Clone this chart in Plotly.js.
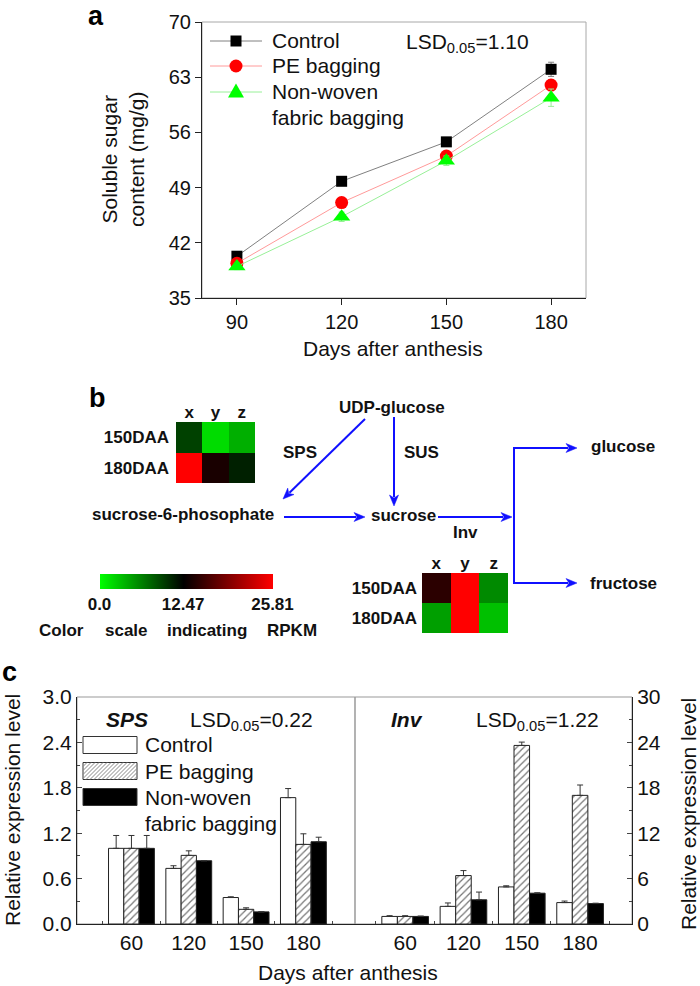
<!DOCTYPE html>
<html><head><meta charset="utf-8">
<script src="https://cdn.plot.ly/plotly-3.0.1.min.js"></script>
<style>html,body{margin:0;padding:0;background:#fff}</style>
</head><body><div id="chart" style="width:700px;height:986px"></div>
<script>
// ---------- Panel a data ----------
const daysA = [90, 120, 150, 180];
const controlA = [40.3, 49.8, 54.8, 64.0];
const controlAErr = [0.4, 0.5, 0.4, 0.9];
const peA = [39.4, 47.1, 53.0, 62.0];
const peAErr = [0.3, 0.5, 0.4, 0.7];
const nwA = [39.0, 45.3, 52.4, 60.4];
const nwAErr = [0.4, 0.6, 0.6, 1.1];
const seriesNames = ['Control', 'PE bagging', 'Non-woven<br>fabric bagging'];

// ---------- Panel b data (RPKM heatmaps) ----------
const heatCols = ['x', 'y', 'z'];
const heatRows = ['150DAA', '180DAA'];
const spsHeat = [[9.3, 1.7, 3.9], [25.81, 13.8, 10.9]];
const invHeat = [[14.7, 25.81, 5.7], [4.7, 25.81, 3.1]];
const rpkmTicks = [0, 12.47, 25.81];
const rpkmTickText = ['0.0', '12.47', '25.81'];

// ---------- Panel c data ----------
const dayCats = ['60', '120', '150', '180'];
const spsControl = [1.0, 0.735, 0.35, 1.67];
const spsControlErr = [0.17, 0.035, 0.01, 0.12];
const spsPE = [1.0, 0.907, 0.194, 1.052];
const spsPEErr = [0.17, 0.06, 0.02, 0.14];
const spsNW = [1.0, 0.836, 0.16, 1.087];
const spsNWErr = [0.17, 0.0, 0.0, 0.06];
const invControl = [1.0, 2.33, 4.9, 2.83];
const invControlErr = [0.1, 0.45, 0.15, 0.2];
const invPE = [1.0, 6.4, 23.6, 17.0];
const invPEErr = [0.1, 0.66, 0.44, 1.37];
const invNW = [1.0, 3.2, 4.07, 2.7];
const invNWErr = [0.05, 1.02, 0.05, 0.05];

// ---------- helpers ----------
const W = 700, H = 986;
const FONT = 'Liberation Sans, Arial, Helvetica, sans-serif';
const px = x => x / W;
const py = y => 1 - y / H;

const traces = [];
// Panel a
const aStyles = [
  {line: '#808080', marker: {symbol: 'square', size: 11, color: '#000000'}},
  {line: '#ff9a9a', marker: {symbol: 'circle', size: 13, color: '#ff0000'}},
  {line: '#98f098', marker: {symbol: 'triangle-up', size: 15, color: '#00ff00'}}
];
[[controlA, controlAErr], [peA, peAErr], [nwA, nwAErr]].forEach((s, i) => {
  traces.push({
    type: 'scatter', mode: 'lines+markers', x: daysA, y: s[0], name: seriesNames[i],
    xaxis: 'x', yaxis: 'y', showlegend: false,
    line: {color: aStyles[i].line, width: 1},
    marker: aStyles[i].marker,
    error_y: {type: 'data', array: s[1], color: aStyles[i].line, thickness: 1, width: 3}
  });
});

// Panel c bars
const barStyles = [
  {color: '#ffffff', pattern: {shape: ''}},
  {color: '#ffffff', pattern: {shape: '/', fgcolor: '#777777', bgcolor: '#ffffff', size: 5, solidity: 0.25}},
  {color: '#000000', pattern: {shape: ''}}
];
function addBars(vals, errs, xa, ya) {
  vals.forEach((v, i) => {
    traces.push({
      type: 'bar', x: dayCats, y: v, xaxis: xa, yaxis: ya, showlegend: false,
      name: seriesNames[i].replace('<br>', ' '),
      marker: {color: barStyles[i].color, pattern: barStyles[i].pattern, line: {color: '#222', width: 1}},
      error_y: {type: 'data', symmetric: false, array: errs[i], arrayminus: errs[i].map(() => 0),
                color: '#333', thickness: 1, width: 3}
    });
  });
}
addBars([spsControl, spsPE, spsNW], [spsControlErr, spsPEErr, spsNWErr], 'x2', 'y2');
addBars([invControl, invPE, invNW], [invControlErr, invPEErr, invNWErr], 'x3', 'y3');

// Panel b heatmaps
const cscale = [[0, 'rgb(0,255,0)'], [12.47 / 25.81, 'rgb(0,0,0)'], [1, 'rgb(255,0,0)']];
traces.push({
  type: 'heatmap', x: heatCols, y: heatRows, z: spsHeat, xaxis: 'x4', yaxis: 'y4',
  zmin: 0, zmax: 25.81, colorscale: cscale, showscale: true, hoverinfo: 'z',
  colorbar: {
    orientation: 'h', x: px(186), xanchor: 'center', y: py(574), yanchor: 'top',
    len: 173, lenmode: 'pixels', thickness: 15, thicknessmode: 'pixels',
    outlinewidth: 0, xpad: 0, ypad: 0, ticks: '',
    tickvals: rpkmTicks, ticktext: rpkmTickText,
    tickfont: {family: FONT, size: 17, weight: 'bold', color: '#111'}
  }
});
traces.push({
  type: 'heatmap', x: heatCols, y: heatRows, z: invHeat, xaxis: 'x5', yaxis: 'y5',
  zmin: 0, zmax: 25.81, colorscale: cscale, showscale: false, hoverinfo: 'z'
});

// ---------- layout ----------
const tf = {family: FONT, size: 20, color: '#111'};
const tfc = {family: FONT, size: 21, color: '#111'};
const boldf = {family: FONT, size: 17, weight: 'bold', color: '#111'};

const layout = {
  width: W, height: H, margin: {l: 0, r: 0, t: 0, b: 0},
  paper_bgcolor: '#fff', plot_bgcolor: 'rgba(0,0,0,0)',
  font: {family: FONT, color: '#111'},
  showlegend: false,
  barmode: 'group', bargap: 0.2, bargroupgap: 0,
  // panel a
  xaxis: {domain: [px(202), px(586)], anchor: 'y', range: [80, 190],
          tickvals: daysA, ticks: 'outside', ticklen: 6, tickcolor: '#222',
          showline: true, linecolor: '#222', linewidth: 1, showgrid: false, zeroline: false,
          tickfont: tf},
  yaxis: {domain: [py(298), py(22)], anchor: 'x', range: [35, 70], tick0: 35, dtick: 7,
          ticks: 'outside', ticklen: 6, tickcolor: '#222',
          showline: true, linecolor: '#222', linewidth: 1, showgrid: false, zeroline: false,
          tickfont: tf},
  // panel c left
  xaxis2: {domain: [px(77), px(355)], anchor: 'y2', type: 'category', range: [-0.95, 3.9],
           tickson: 'boundaries', ticks: 'inside', ticklen: 3, tickcolor: '#444',
           showline: true, linecolor: '#222', linewidth: 1, showgrid: false, zeroline: false,
           tickfont: tfc},
  yaxis2: {domain: [py(924), py(697)], anchor: 'x2', range: [0, 3], tick0: 0, dtick: 0.6,
           tickformat: '.1f', ticks: 'inside', ticklen: 5, tickcolor: '#444',
           minor: {ticks: 'inside', ticklen: 3, dtick: 0.3, tickcolor: '#444'},
           showline: true, linecolor: '#222', linewidth: 1, showgrid: false, zeroline: false,
           tickfont: tfc},
  // panel c right
  xaxis3: {domain: [px(355), px(632)], anchor: 'y3', type: 'category', range: [-0.86, 3.89],
           tickson: 'boundaries', ticks: 'inside', ticklen: 3, tickcolor: '#444',
           showline: true, linecolor: '#222', linewidth: 1, showgrid: false, zeroline: false,
           tickfont: tfc},
  yaxis3: {domain: [py(924), py(697)], anchor: 'x3', side: 'right', range: [0, 30], tick0: 0, dtick: 6,
           ticks: 'inside', ticklen: 5, tickcolor: '#444',
           minor: {ticks: 'inside', ticklen: 3, dtick: 3, tickcolor: '#444'},
           showline: true, linecolor: '#222', linewidth: 1, showgrid: false, zeroline: false,
           tickfont: tfc},
  // heatmaps
  xaxis4: {domain: [px(176), px(255)], anchor: 'y4', side: 'top', ticks: '', showline: false,
           showgrid: false, zeroline: false, tickfont: boldf},
  yaxis4: {domain: [py(483), py(422)], anchor: 'x4', autorange: 'reversed', ticks: '',
           showgrid: false, zeroline: false, tickfont: boldf, ticklabelstandoff: 6},
  xaxis5: {domain: [px(422), px(508)], anchor: 'y5', side: 'top', ticks: '', showline: false,
           showgrid: false, zeroline: false, tickfont: boldf},
  yaxis5: {domain: [py(633), py(573)], anchor: 'x5', autorange: 'reversed', ticks: '',
           showgrid: false, zeroline: false, tickfont: boldf, ticklabelstandoff: 4},
  shapes: [],
  annotations: []
};

const S = layout.shapes, A = layout.annotations;
// frames
S.push({type: 'rect', xref: 'x domain', yref: 'y domain', x0: 0, x1: 1, y0: 0, y1: 1,
        line: {color: '#a8a8a8', width: 1}, layer: 'below'});
S.push({type: 'rect', xref: 'x2 domain', yref: 'y2 domain', x0: 0, x1: 1, y0: 0, y1: 1,
        line: {color: '#999', width: 1}, layer: 'below'});
S.push({type: 'rect', xref: 'x3 domain', yref: 'y3 domain', x0: 0, x1: 1, y0: 0, y1: 1,
        line: {color: '#999', width: 1}, layer: 'below'});

// text helper
function txt(text, x, y, font, opts) {
  A.push(Object.assign({text: text, x: px(x), y: py(y), xref: 'paper', yref: 'paper',
    showarrow: false, font: font, xanchor: 'center', yanchor: 'middle'}, opts || {}));
}
const f21 = {family: FONT, size: 21, color: '#111'};
const fb17 = {family: FONT, size: 17, weight: 'bold', color: '#111'};
const fPanel = {family: FONT, size: 27, weight: 'bold', color: '#000'};

// panel letters
txt('a', 96, 16, fPanel);
txt('b', 97, 398, fPanel);
txt('c', 9, 672, fPanel);

// panel a legend (key drawn with shapes, labels as text)
const legRows = [41, 66, 92];
legRows.forEach((cy, i) => {
  S.push({type: 'line', xref: 'paper', yref: 'paper', x0: px(210), x1: px(262), y0: py(cy), y1: py(cy),
          line: {color: aStyles[i].line, width: 1}});
});
S.push({type: 'rect', xref: 'paper', yref: 'paper', x0: px(230.5), x1: px(241.5), y0: py(46.5), y1: py(35.5),
        fillcolor: '#000', line: {color: '#000', width: 0}});
S.push({type: 'circle', xref: 'paper', yref: 'paper', x0: px(229.5), x1: px(242.5), y0: py(72.5), y1: py(59.5),
        fillcolor: '#ff0000', line: {color: '#ff0000', width: 0}});
S.push({type: 'path', xref: 'paper', yref: 'paper',
        path: 'M' + px(236) + ',' + py(83.5) + 'L' + px(244) + ',' + py(97.5) + 'L' + px(228) + ',' + py(97.5) + 'Z',
        fillcolor: '#00ff00', line: {color: '#00ff00', width: 0}});
txt('Control', 270, 41, f21, {xanchor: 'left'});
txt('PE bagging', 270, 66, f21, {xanchor: 'left'});
txt('Non-woven', 270, 92, f21, {xanchor: 'left'});
txt('fabric bagging', 270, 117, f21, {xanchor: 'left'});

// panel a texts
txt('LSD<sub>0.05</sub>=1.10', 467, 43, f21);
txt('Soluble sugar<br>content (mg/g)', 123, 160, f21, {textangle: -90});
txt('Days after anthesis', 393, 348, f21);

// panel c texts
txt('<b><i>SPS</i></b>', 127, 719, f21);
txt('LSD<sub>0.05</sub>=0.22', 251, 721, f21);
txt('<b><i>Inv</i></b>', 407, 719, f21);
txt('LSD<sub>0.05</sub>=1.22', 537, 721, f21);
txt('Relative expression level', 12, 810, f21, {textangle: -90});
txt('Relative expression level', 688, 814, f21, {textangle: -90});
txt('Days after anthesis', 348, 972, f21);

// panel c legend (swatches + labels)
const swX0 = 83, swX1 = 137, swH = 17;
const swCentres = [745, 771, 797];
const swFill = ['#ffffff', '#ffffff', '#000000'];
swCentres.forEach((cy, i) => {
  S.push({type: 'rect', xref: 'paper', yref: 'paper', x0: px(swX0), x1: px(swX1),
          y0: py(cy + swH / 2), y1: py(cy - swH / 2), fillcolor: swFill[i],
          line: {color: '#333', width: 1}});
});
(function () {
  const y0 = swCentres[1] + swH / 2, y1 = swCentres[1] - swH / 2;
  let d = '';
  for (let k = -swH; k < (swX1 - swX0); k += 4) {
    let sx = swX0 + k, sy = y0, ex = sx + swH, ey = y1;
    if (sx < swX0) { sy = y0 - (swX0 - sx); sx = swX0; }
    if (ex > swX1) { ey = y1 + (ex - swX1); ex = swX1; }
    d += 'M' + px(sx) + ',' + py(sy) + 'L' + px(ex) + ',' + py(ey);
  }
  S.push({type: 'path', xref: 'paper', yref: 'paper', path: d, line: {color: '#888', width: 1}});
})();
txt('Control', 143, 744, f21, {xanchor: 'left'});
txt('PE bagging', 143, 771, f21, {xanchor: 'left'});
txt('Non-woven', 143, 797, f21, {xanchor: 'left'});
txt('fabric bagging', 143, 823, f21, {xanchor: 'left'});

// panel b pathway texts
txt('UDP-glucose', 392, 407, fb17);
txt('SPS', 300, 453, fb17);
txt('SUS', 421, 453, fb17);
txt('sucrose-6-phosophate', 183, 514, fb17);
txt('sucrose', 403, 515, fb17);
txt('Inv', 465, 532, fb17);
txt('glucose', 623, 447, fb17);
txt('fructose', 623, 583, fb17);
txt('Color', 62, 630, fb17);
txt('scale', 126, 630, fb17);
txt('indicating', 207, 630, fb17);
txt('RPKM', 292, 630, fb17);

// pathway arrows (tail -> head, pixel coords), drawn as a line plus a filled head
const BLUE = '#1010ff';
function arrow(tx, ty, hx, hy) {
  const dx = hx - tx, dy = hy - ty, L = Math.hypot(dx, dy);
  const ux = dx / L, uy = dy / L, nx = -uy, ny = ux;
  const hl = 11, hw = 4.5;
  const bx = hx - hl * ux, by = hy - hl * uy;
  S.push({type: 'line', xref: 'paper', yref: 'paper', x0: px(tx), y0: py(ty), x1: px(bx + 2 * ux), y1: py(by + 2 * uy),
          line: {color: BLUE, width: 2}});
  S.push({type: 'path', xref: 'paper', yref: 'paper',
          path: 'M' + px(hx) + ',' + py(hy) + 'L' + px(bx + hw * nx) + ',' + py(by + hw * ny) +
                'L' + px(bx + 3 * ux) + ',' + py(by + 3 * uy) +
                'L' + px(bx - hw * nx) + ',' + py(by - hw * ny) + 'Z',
          fillcolor: BLUE, line: {color: BLUE, width: 0.5}});
}
arrow(365, 419, 283, 499);
arrow(394, 417, 394, 506);
arrow(284, 517, 365, 517);
arrow(438, 517, 512, 517);
arrow(514, 448, 577, 448);
arrow(514, 583, 577, 583);
S.push({type: 'line', xref: 'paper', yref: 'paper', x0: px(514), x1: px(514), y0: py(447), y1: py(584),
        line: {color: BLUE, width: 2}});

Plotly.newPlot('chart', traces, layout, {displayModeBar: false, staticPlot: true});
</script></body></html>
